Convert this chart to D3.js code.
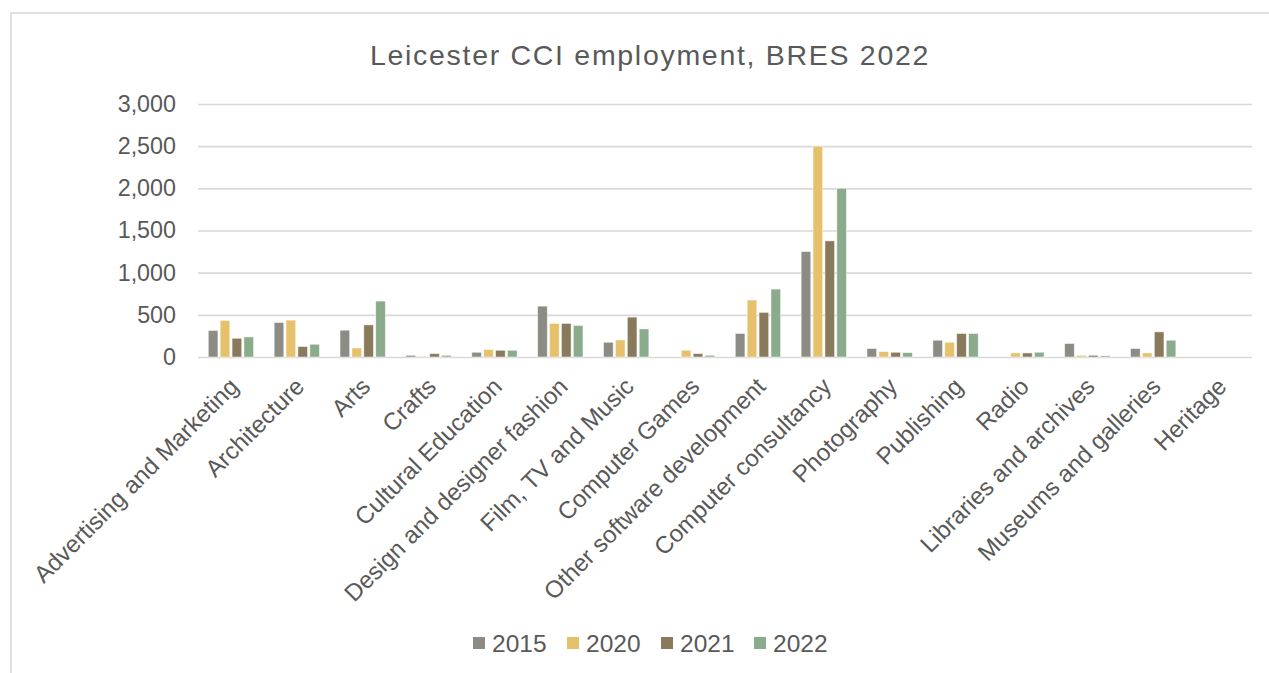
<!DOCTYPE html>
<html>
<head>
<meta charset="utf-8">
<script src="https://cdn.jsdelivr.net/npm/d3@7"></script>
<style>
  html, body { margin: 0; padding: 0; background: #fff; }
  svg { display: block; font-family: "Liberation Sans", Arial, sans-serif; }
</style>
</head>
<body>
<svg id="chart" width="1269" height="673"></svg>
<script>
// Employment by creative & cultural industry sub-sector
const categories = [
  "Advertising and Marketing", "Architecture", "Arts", "Crafts",
  "Cultural Education", "Design and designer fashion", "Film, TV and Music",
  "Computer Games", "Other software development", "Computer consultancy",
  "Photography", "Publishing", "Radio", "Libraries and archives",
  "Museums and galleries", "Heritage"
];
const years = ["2015", "2020", "2021", "2022"];
const v2015 = [315, 409, 318, 20, 56, 603, 175, 0, 279, 1250, 100, 199, 0, 160, 100, 0];
const v2020 = [433, 437, 107, 10, 88, 398, 202, 80, 675, 2500, 64, 175, 48, 20, 48, 0];
const v2021 = [222, 124, 381, 40, 80, 398, 473, 40, 529, 1377, 56, 279, 48, 20, 298, 0];
const v2022 = [238, 151, 663, 20, 80, 374, 333, 20, 805, 2000, 52, 279, 56, 15, 199, 0];
const yTicks = [0, 500, 1000, 1500, 2000, 2500, 3000];
const colors = ["#8c8c84", "#e6c06a", "#8a7a5c", "#8aab8c"];

const seriesValues = [v2015, v2020, v2021, v2022];
const rows = categories.map((c, i) => ({
  category: c,
  values: years.map((y, s) => ({ year: y, value: seriesValues[s][i] }))
}));

const svg = d3.select("#chart");
const textColor = "#595959";
const gridColor = "#d9d9d9";

// chart frame
svg.append("rect")
  .attr("x", 11).attr("y", 13)
  .attr("width", 1290).attr("height", 720)
  .attr("fill", "#fff")
  .attr("stroke", gridColor).attr("stroke-width", 1.6);

const plot = { left: 198, right: 1252, top: 104, bottom: 357 };

const x0 = d3.scaleBand()
  .domain(categories)
  .range([plot.left, plot.right])
  .paddingInner(0).paddingOuter(0);

const groupW = x0.bandwidth() * 0.688;
const x1 = d3.scaleBand()
  .domain(years)
  .range([0, groupW])
  .paddingInner(0.19).paddingOuter(0);

const y = d3.scaleLinear().domain([0, 3000]).range([plot.bottom, plot.top]);

// title
svg.append("text")
  .attr("x", 650).attr("y", 65)
  .attr("text-anchor", "middle")
  .attr("font-size", 28.5)
  .attr("letter-spacing", 1.7)
  .attr("fill", textColor)
  .text("Leicester CCI employment, BRES 2022");

// gridlines + y axis labels
const yAxis = d3.axisLeft(y).tickValues(yTicks)
  .tickSize(-(plot.right - plot.left))
  .tickPadding(22)
  .tickFormat(d3.format(","));
const gy = svg.append("g")
  .attr("transform", `translate(${plot.left},0)`)
  .call(yAxis);
gy.select(".domain").remove();
gy.selectAll(".tick line").attr("stroke", gridColor).attr("stroke-width", 1.7);
gy.selectAll(".tick text")
  .attr("fill", textColor)
  .attr("font-size", 23.3)
  .attr("font-family", "Liberation Sans, Arial, sans-serif");

// bars
const groups = svg.append("g").selectAll("g")
  .data(rows)
  .join("g")
  .attr("transform", d => `translate(${x0(d.category) + (x0.bandwidth() - groupW) / 2},0)`);

groups.selectAll("rect")
  .data(d => d.values)
  .join("rect")
  .attr("x", d => x1(d.year))
  .attr("y", d => y(d.value))
  .attr("width", x1.bandwidth())
  .attr("height", d => y(0) - y(d.value))
  .attr("fill", (d, i) => colors[i])
  .attr("stroke", "#ffffff")
  .attr("stroke-opacity", 0.6)
  .attr("stroke-width", 0.8);

// category labels
const xAxis = d3.axisBottom(x0).tickSize(0).tickPadding(0);
const gx = svg.append("g")
  .attr("transform", `translate(0,${plot.bottom})`)
  .call(xAxis);
gx.select(".domain").remove();
gx.selectAll(".tick text")
  .attr("fill", textColor)
  .attr("font-size", 24)
  .attr("font-family", "Liberation Sans, Arial, sans-serif")
  .attr("text-anchor", "end")
  .attr("dy", 0)
  .attr("y", 0)
  .attr("transform", "translate(9,31) rotate(-45)");

// legend
const legendX = [473, 567, 661, 754];
const legend = svg.append("g").selectAll("g")
  .data(years)
  .join("g")
  .attr("transform", (d, i) => `translate(${legendX[i]},637)`);
legend.append("rect")
  .attr("width", 12).attr("height", 12)
  .attr("fill", (d, i) => colors[i]);
legend.append("text")
  .attr("x", 19).attr("y", 14.5)
  .attr("font-size", 24.5)
  .attr("fill", textColor)
  .text(d => d);
</script>
</body>
</html>
